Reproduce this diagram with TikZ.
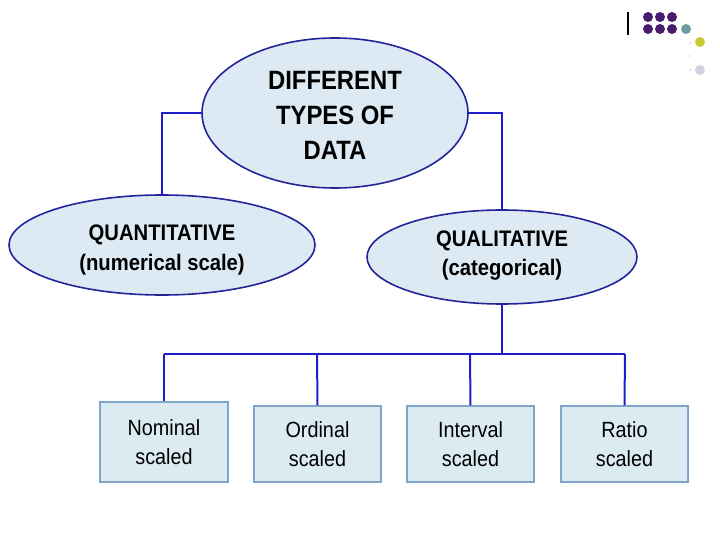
\documentclass[tikz,border=0pt]{standalone}
\usepackage{fontspec}
\setmainfont[FakeStretch=0.9]{Liberation Sans}
\usetikzlibrary{shapes.geometric}
\definecolor{ellfill}{HTML}{DDEAF3}
\definecolor{ellline}{HTML}{24249A}
\definecolor{conn}{HTML}{1E1ECC}
\definecolor{boxfill}{HTML}{DCEAF2}
\definecolor{boxline}{HTML}{7FA6C8}
\definecolor{dotpurple}{HTML}{4A1C6E}
\definecolor{dotteal}{HTML}{6A9E9E}
\definecolor{dotyellow}{HTML}{C9C935}
\definecolor{dotlav}{HTML}{D2D2E4}
\tikzset{
  ell/.style={ellipse, draw=ellline, line width=1.6pt, fill=ellfill, inner sep=0pt, align=center},
  sbox/.style={rectangle, draw=boxline, line width=1.5pt, fill=boxfill, inner sep=0pt, align=center,
     font=\fontsize{22}{29}\selectfont},
  link/.style={draw=conn, line width=2pt},
  etext/.style={align=center, inner sep=0pt},
}
\begin{document}
\begin{tikzpicture}[x=1pt,y=-1pt]
\useasboundingbox (0,0) rectangle (720,540);
\coordinate (tl) at (162,113);
\coordinate (tr) at (502,113);
\coordinate (bus) at (502,354);
\coordinate (b1) at (164,354);
\coordinate (b2) at (317,354);
\coordinate (b3) at (470,354);
\coordinate (b4) at (625,354);
\node[ell, minimum width=266, minimum height=150] (top) at (335,113) {};
\node[etext, font=\bfseries\fontsize{26.5}{35}\selectfont] (topt) at (335,115) {DIFFERENT\\TYPES OF\\DATA};
\node[ell, minimum width=306, minimum height=100] (quan) at (162,245) {};
\node[etext, font=\bfseries\fontsize{22.5}{30}\selectfont] (quant) at (162,250) {QUANTITATIVE\\(numerical scale)};
\node[ell, minimum width=270, minimum height=94] (qual) at (502,257) {};
\node[etext, font=\bfseries\fontsize{22.5}{29}\selectfont] (qualt) at (502,256) {QUALITATIVE\\(categorical)};
\node[sbox, minimum width=128, minimum height=80] (nom) at (164,442) {Nominal\\scaled};
\node[sbox, minimum width=127, minimum height=76] (ord) at (317.5,444) {Ordinal\\scaled};
\node[sbox, minimum width=127, minimum height=76] (int) at (470.5,444) {Interval\\scaled};
\node[sbox, minimum width=127, minimum height=76] (rat) at (624.5,444) {Ratio\\scaled};
\draw[link] (top.west) -- (tl) -- (quan.north);
\draw[link] (top.east) -- (tr) -- (qual.north);
\draw[link] (qual.south) -- (bus);
\draw[link] (b1) -- (b4);
\draw[link] (b1) -- (nom.north);
\draw[link] (b2) -- (ord.north);
\draw[link] (b3) -- (int.north);
\draw[link] (b4) -- (rat.north);
% logo
\draw[line width=1.2pt] (628,12) -- (628,35);
\foreach \x in {648,660,672} {
  \fill[dotpurple] (\x,17) circle (5);
  \fill[dotpurple] (\x,29) circle (5);
}
\fill[dotteal] (686,29) circle (5);
\fill[dotyellow] (700,42) circle (5);
\fill[dotlav] (700,70) circle (5);
\fill[dotlav] (690,43) circle (1);
\fill[dotlav] (690,56) circle (1);
\fill[dotlav] (690,70) circle (1);
\end{tikzpicture}
\end{document}
